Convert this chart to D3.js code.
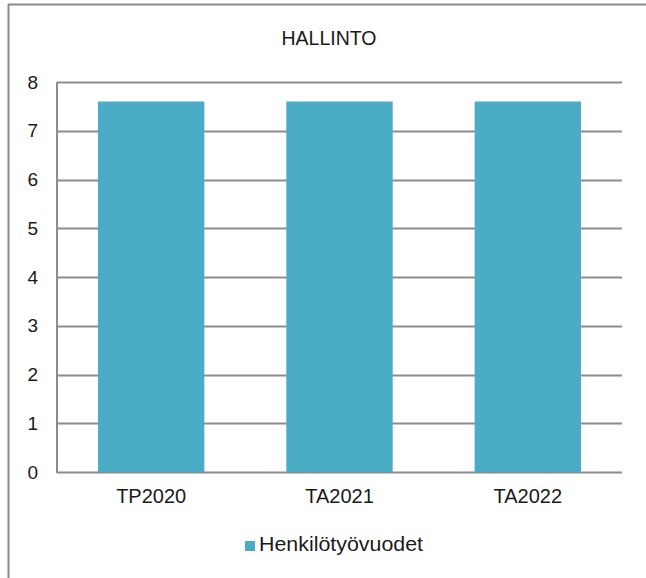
<!DOCTYPE html>
<html>
<head>
<meta charset="utf-8">
<script src="https://cdn.jsdelivr.net/npm/d3@7"></script>
<style>
body { margin: 0; background: #fff; }
text { font-family: "Liberation Sans", Arial, sans-serif; fill: #1a1a1a; }
</style>
</head>
<body>
<div id="chart"></div>
<script>
var categories = ['TP2020', 'TA2021', 'TA2022'];
var values = [7.6, 7.6, 7.6];
var yTicks = [0, 1, 2, 3, 4, 5, 6, 7, 8];
var seriesName = 'Henkilötyövuodet';
var title = 'HALLINTO';

var W = 646, H = 578;
// plot area (note: "top" is reserved on window, so use plotTop)
var plotLeft = 57, plotRight = 622, plotTop = 82, plotBottom = 472;
var barColor = '#4BACC6';

var svg = d3.select('#chart').append('svg')
    .attr('width', W).attr('height', H);

// frame (top + left only)
svg.append('line').attr('x1', 8).attr('x2', W).attr('y1', 4.5).attr('y2', 4.5)
    .attr('stroke', '#8a8a8a').attr('stroke-width', 2);
svg.append('line').attr('x1', 8.5).attr('x2', 8.5).attr('y1', 4).attr('y2', H)
    .attr('stroke', '#8a8a8a').attr('stroke-width', 2);

var x = d3.scaleBand().domain(categories).range([plotLeft, plotRight]).paddingInner(0.435).paddingOuter(0.2175);
var y = d3.scaleLinear().domain([0, 8]).range([plotBottom, plotTop]);

// gridlines
svg.append('g').selectAll('line').data(yTicks).join('line')
    .attr('x1', plotLeft).attr('x2', plotRight)
    .attr('y1', function (d) { return Math.round(y(d)) + 0.5; })
    .attr('y2', function (d) { return Math.round(y(d)) + 0.5; })
    .attr('stroke', '#8c8c8c').attr('stroke-width', 2);

// y axis line
svg.append('line').attr('x1', plotLeft).attr('x2', plotLeft).attr('y1', plotTop).attr('y2', plotBottom + 1)
    .attr('stroke', '#8c8c8c').attr('stroke-width', 2);

// y labels
svg.append('g').selectAll('text').data(yTicks).join('text')
    .attr('x', 38).attr('y', function (d) { return y(d); })
    .attr('dy', '0.35em').attr('text-anchor', 'end')
    .style('font-size', '19px').text(function (d) { return d; });

// bars
svg.append('g').selectAll('rect').data(values).join('rect')
    .attr('x', function (d, i) { return x(categories[i]); })
    .attr('width', x.bandwidth())
    .attr('y', function (d) { return y(d); })
    .attr('height', function (d) { return y(0) - y(d); })
    .attr('fill', barColor);

// x labels
svg.append('g').selectAll('text').data(categories).join('text')
    .attr('x', function (d) { return x(d) + x.bandwidth() / 2; })
    .attr('y', 503).attr('text-anchor', 'middle')
    .style('font-size', '20px').text(function (d) { return d; });

// title
svg.append('text').attr('x', 329).attr('y', 45).attr('text-anchor', 'middle')
    .style('font-size', '19.5px').text(title);

// legend
svg.append('rect').attr('x', 245).attr('y', 541).attr('width', 10).attr('height', 10).attr('fill', barColor);
svg.append('text').attr('x', 259).attr('y', 551).style('font-size', '20px')
    .attr('textLength', 164).attr('lengthAdjust', 'spacingAndGlyphs').text(seriesName);
</script>
</body>
</html>
